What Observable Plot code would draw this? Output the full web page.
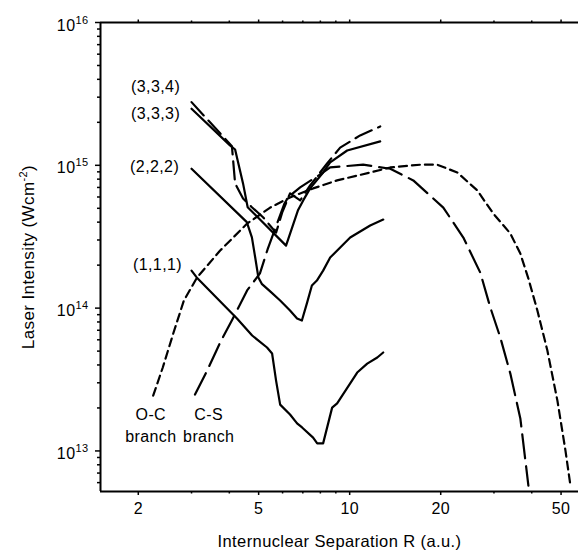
<!DOCTYPE html>
<html><head><meta charset="utf-8">
<script src="https://cdn.jsdelivr.net/npm/d3@7"></script>
<script src="https://cdn.jsdelivr.net/npm/@observablehq/plot@0.6"></script>
<style>html,body{margin:0;padding:0;background:#fff}</style>
</head><body><div id="chart"></div>
<script>
// Axis domains and ticks
const xDomain = [1.5, 57.1];
const yDomain = [5.2e12, 1e16];
const xMajor = [2, 5, 10, 20, 50];
const xMajorLabels = ["2", "5", "10", "20", "50"];
const xMinor = [3, 4, 6, 7, 8, 9, 30, 40];
const yMajor = [1e13, 1e14, 1e15, 1e16];
const yMajorLabels = ["10^{13}", "10^{14}", "10^{15}", "10^{16}"];
const yMinor = [6e12, 7e12, 8e12, 9e12,
  2e13, 3e13, 4e13, 5e13, 6e13, 7e13, 8e13, 9e13,
  2e14, 3e14, 4e14, 5e14, 6e14, 7e14, 8e14, 9e14,
  2e15, 3e15, 4e15, 5e15, 6e15, 7e15, 8e15, 9e15];
const xTitle = "Internuclear Separation R (a.u.)";
const yTitle = "Laser Intensity (Wcm^{-2})";

// O-C branch (short dashes)
const ocR = [2.24, 2.41, 2.61, 2.83, 3.13, 3.73, 4.58, 5.46, 6.35, 7.57, 9.09, 11.69, 13.62, 17.12, 19.49, 22.69, 26.42, 29.85, 33.98, 36.67, 38.99, 41.75, 45.05, 48.63, 51.69, 53.70];
const ocI = [2.44e13, 3.84e13, 6.64e13, 1.13e14, 1.64e14, 2.53e14, 3.91e14, 5.06e14, 5.96e14, 6.89e14, 7.84e14, 8.91e14, 9.66e14, 1.01e15, 1.01e15, 8.91e14, 6.67e14, 4.59e14, 3.33e14, 2.41e14, 1.61e14, 9.62e13, 5.05e13, 2.25e13, 1.01e13, 5.72e12];
// C-S branch (long dashes)
const csR = [3.08, 3.38, 3.73, 4.11, 4.58, 5.05, 5.36, 6.08, 6.26, 6.86, 8.17, 8.62, 11.08, 13.62, 16.23, 20.40, 23.76, 27.04, 29.18, 31.49, 33.98, 36.67, 38.99];
const csI = [2.48e13, 3.66e13, 5.74e13, 8.46e13, 1.33e14, 1.75e14, 2.60e14, 5.37e14, 5.98e14, 7.00e14, 8.91e14, 9.66e14, 1.01e15, 9.46e14, 7.84e14, 5.06e14, 3.12e14, 1.77e14, 1.01e14, 6.22e13, 3.48e13, 1.69e13, 5.72e12];
// (1,1,1)
const r111 = [3.00, 3.12, 4.24, 4.76, 5.33, 5.54, 5.71, 5.89, 6.35, 6.70, 6.96, 7.57, 7.81, 8.17, 8.75, 9.09, 10.59, 11.43, 12.34, 12.91];
const i111 = [1.83e14, 1.64e14, 8.46e13, 6.43e13, 5.30e13, 4.81e13, 3.11e13, 2.11e13, 1.80e13, 1.56e13, 1.46e13, 1.24e13, 1.13e13, 1.13e13, 2.01e13, 2.15e13, 3.54e13, 4.09e13, 4.51e13, 4.89e13];
// (2,2,2)
const r222 = [3.00, 4.57, 4.75, 4.87, 4.99, 5.12, 5.46, 5.89, 6.35, 6.70, 6.95, 7.22, 7.50, 7.79, 8.17, 8.62, 10.04, 11.69, 12.91];
const i222 = [9.46e14, 4.00e14, 3.13e14, 2.27e14, 1.64e14, 1.48e14, 1.31e14, 1.13e14, 9.62e13, 8.46e13, 8.19e13, 1.08e14, 1.44e14, 1.56e14, 1.83e14, 2.26e14, 3.12e14, 3.79e14, 4.17e14];
// (3,3,3)
const r333 = [3.00, 4.02, 4.18, 4.44, 4.60, 6.16, 6.74, 7.02, 7.40, 8.17, 8.62, 9.81, 12.62];
const i333 = [2.49e15, 1.38e15, 1.29e15, 7.47e14, 5.09e14, 2.74e14, 4.82e14, 5.68e14, 6.89e14, 8.91e14, 1.05e15, 1.27e15, 1.47e15];
// (3,3,4) (dashed)
const r334 = [3.00, 4.08, 4.18, 4.44, 4.75, 5.17, 5.71, 5.98, 6.35, 6.86, 7.40, 8.42, 9.30, 10.83, 12.62];
const i334 = [2.77e15, 1.36e15, 7.47e14, 5.86e14, 5.09e14, 4.33e14, 3.38e14, 4.66e14, 6.36e14, 5.68e14, 7.23e14, 1.03e15, 1.33e15, 1.62e15, 1.87e15];

// Annotations
const labelText = ["(3,3,4)", "(3,3,3)", "(2,2,2)", "(1,1,1)"];
const labelR = [2.75, 2.75, 2.73, 2.79];
const labelI = [3.52e15, 2.31e15, 9.82e14, 2.02e14];
const branchText = ["O-C\nbranch", "C-S\nbranch"];
const branchR = [2.20, 3.42];
const branchI = [1.54e13, 1.54e13];

const toRows = (R, I) => R.map((r, i) => ({R: r, I: I[i]}));
const lineOpts = {x: "R", y: "I", stroke: "black", strokeWidth: 2.2, strokeLinejoin: "round"};

const plot = Plot.plot({
  width: 578,
  height: 557,
  marginLeft: 100,
  marginRight: 0,
  marginTop: 22,
  marginBottom: 66,
  clip: true,
  style: {fontFamily: '"Liberation Sans", Arial, Helvetica, sans-serif', fontSize: "16px", background: "white", color: "black", letterSpacing: "0.4px"},
  x: {type: "log", domain: xDomain},
  y: {type: "log", domain: yDomain},
  marks: [
    Plot.axisX(xMajor, {anchor: "bottom", tickSize: 4, strokeWidth: 1.5, fill: "none", label: null}),
    Plot.axisX(xMinor, {anchor: "bottom", tickSize: 2.5, strokeWidth: 1.5, fill: "none", label: null}),
    Plot.axisX(xMajor, {anchor: "top", tickSize: 3.5, strokeWidth: 1.5, fill: "none", label: null}),
    Plot.axisX(xMinor, {anchor: "top", tickSize: 2.5, strokeWidth: 1.5, fill: "none", label: null}),
    Plot.axisY(yMajor, {anchor: "left", tickSize: 5, strokeWidth: 1.5, fill: "none", label: null}),
    Plot.axisY(yMinor, {anchor: "left", tickSize: 3, strokeWidth: 1.5, fill: "none", label: null}),
    Plot.ruleY(yDomain, {stroke: "black", strokeWidth: 2, clip: false}),
    Plot.ruleX([xDomain[0]], {stroke: "black", strokeWidth: 2, clip: false}),
    Plot.line(toRows(ocR, ocI), {...lineOpts, strokeDasharray: "8,5"}),
    Plot.line(toRows(csR, csI), {...lineOpts, strokeDasharray: "24,8"}),
    Plot.line(toRows(r111, i111), lineOpts),
    Plot.line(toRows(r222, i222), lineOpts),
    Plot.line(toRows(r333, i333), lineOpts),
    Plot.line(toRows(r334, i334), {...lineOpts, strokeDasharray: "18,7"}),
    Plot.text(labelText, {x: labelR, y: labelI, textAnchor: "end", clip: false}),
    Plot.text(branchText, {x: branchR, y: branchI, lineHeight: 1.375, clip: false}),
    Plot.text(xMajor, {x: d => d, frameAnchor: "bottom", dy: 22, text: (d, i) => xMajorLabels[i], clip: false}),
    Plot.text(yMajor, {y: d => d, frameAnchor: "left", textAnchor: "end", dx: -12, dy: 3, text: (d, i) => yMajorLabels[i], clip: false}),
    Plot.text([xTitle], {frameAnchor: "bottom", dy: 55, fontSize: 16.5, clip: false}),
    Plot.text([yTitle], {frameAnchor: "middle", textAnchor: "middle", rotate: -90, dx: -306, lineAnchor: "bottom", fontSize: 17, clip: false})
  ]
});

// superscripts: "a^{b}c" -> a<tspan>b</tspan>c
const NS = "http://www.w3.org/2000/svg";
plot.querySelectorAll("text").forEach(el => {
  if (el.children.length) return;
  const m = el.textContent.match(/^(.*)\^\{(.*?)\}(.*)$/);
  if (!m) return;
  el.textContent = "";
  const a = document.createElementNS(NS, "tspan"); a.textContent = m[1]; el.appendChild(a);
  const b = document.createElementNS(NS, "tspan"); b.textContent = m[2];
  b.setAttribute("dy", "-7"); b.setAttribute("font-size", "11"); el.appendChild(b);
  if (m[3]) {
    const c = document.createElementNS(NS, "tspan"); c.textContent = m[3];
    c.setAttribute("dy", "7"); el.appendChild(c);
  }
});
document.getElementById("chart").appendChild(plot);
</script>
</body></html>
